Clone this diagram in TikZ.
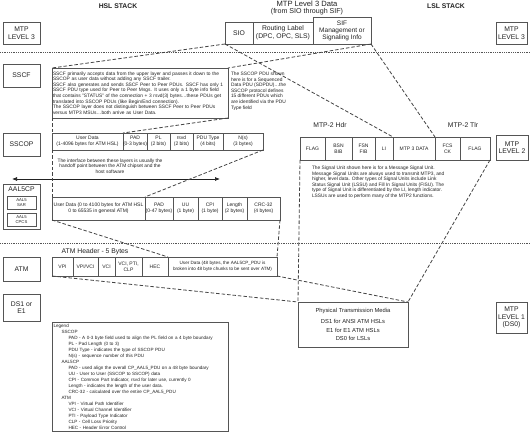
\documentclass[tikz,border=0pt]{standalone}
\usepackage{fontspec}
\setmainfont{Liberation Sans}
\usetikzlibrary{arrows.meta,positioning}
\definecolor{stkline}{HTML}{555555}
\definecolor{stktext}{HTML}{222222}
\definecolor{stkdash}{HTML}{444444}
\newcommand{\ftxt}{\fontsize{4.85}{5.6}\selectfont}
\newcommand{\flgd}{\fontsize{4.6}{6.0}\selectfont}
\newcommand{\ffld}{\fontsize{5.0}{5.6}\selectfont}
\newcommand{\flvl}{\fontsize{6.8}{7.6}\selectfont}
\tikzset{
  lvlbox/.style={draw=stkline,line width=0.9pt,font=\flvl,align=center,inner sep=0pt,outer sep=0pt,anchor=north west,text=stktext},
  fldbox/.style={draw=stkline,line width=0.6pt,font=\ffld,align=center,inner sep=0pt,outer sep=0pt,anchor=north west,text=stktext},
  notetxt/.style={font=\ftxt,align=left,inner sep=0pt,outer sep=0pt,anchor=north west,text=stktext},
  zoomln/.style={draw=stkdash,line width=0.8pt,dash pattern=on 3.5pt off 2pt},
  layerln/.style={draw=stkline,line width=0.7pt,dash pattern=on 0.7pt off 1.1pt},
  ifarrow/.style={{Latex[length=5pt,width=4pt]}-{Latex[length=5pt,width=4pt]},draw=stktext,line width=0.7pt},
  hdrtxt/.style={font=\flvl,text=stktext,inner sep=0pt,align=center}
}

\begin{document}
\begin{tikzpicture}[x=1pt,y=-1pt]
\useasboundingbox[fill=white] (0,0) rectangle (530,433);
\node[hdrtxt,font=\flvl\bfseries] (hsl) at (118,6) {HSL STACK};
\node[hdrtxt,anchor=north,font=\fontsize{7.1}{7.2}\selectfont] (l3data) at (307,1) {{\fontsize{7.6}{8}\selectfont MTP Level 3 Data}\\(from SIO through SIF)};
\node[hdrtxt,font=\flvl\bfseries] (lsl) at (446,6) {LSL STACK};
\node[lvlbox,minimum width=37pt,minimum height=22pt] (lvl3a) at (3,22) {MTP\\LEVEL 3};
\node[lvlbox,minimum width=31pt,minimum height=22pt] (lvl3b) at (496,22) {MTP\\LEVEL 3};
\node[fldbox,font=\flvl,minimum width=28pt,minimum height=22pt] (sio) at (225,22) {SIO};
\node[fldbox,font=\flvl,minimum width=60pt,minimum height=22pt] (rlab) at (253,22) {Routing Label\\(DPC, OPC, SLS)};
\node[fldbox,font=\fontsize{6.5}{7.0}\selectfont,minimum width=58pt,minimum height=27pt] (sif) at (313,17) {SIF\\Management or\\Signaling Info};
\draw[layerln] (0,52) -- (530,52);
\draw[layerln] (0,243) -- (530,243);
\node[lvlbox,minimum width=37pt,minimum height=23pt] (sscf) at (3,64) {SSCF};
\node[notetxt,draw=stkline,line width=0.6pt,inner sep=1pt,text width=174pt,minimum height=50pt] (sscftxt) at (52,68) {SSCF primarily accepts data from the upper layer  and passes it down to the\\SSCOP as user data without adding any SSCF trailer.\\SSCF also generates and sends SSCF Peer to Peer PDUs. SSCF has only 1\\SSCF PDU type used for Peer to Peer Msgs. It uses only a 1 byte info field\\that contains "STATUS" of the connection + 3 rsvd(3) bytes\ldots these PDUs get\\translated into SSCOP PDUs (like Begin/End connection).\\The SSCOP layer does not distinguish between SSCF Peer to Peer PDUs\\versus MTP3 MSUs\ldots both arrive as User Data.};
\node[notetxt] (pdunote) at (231,72) {The SSCOP PDU shown\\here is for a Sequenced\\Data PDU (SDPDU)\ldots the\\SSCOP protocol defines\\15 different PDUs which\\are identified via the PDU\\Type field};
\node[lvlbox,minimum width=37pt,minimum height=23pt] (sscop) at (3,133) {SSCOP};
\foreach \n/\xa/\xb/\txt in {ud/52/123/{User Data\\(1-4096 bytes for ATM HSL)},pad/123/147/{PAD\\(0-3 bytes)},pl/147/170/{PL\\(2 bits)},rsvd/170/193/{rsvd\\(2 bits)},pdu/193/223/{PDU Type\\(4 bits)},ns/223/263/{N(s)\\(3 bytes)}}
  \node[fldbox,minimum width={(\xb-\xa)*1pt},minimum height=17pt] (sscop\n) at (\xa,133) {\txt};
\node[notetxt,align=center,anchor=center] (iftxt) at (110,166) {The interface between these layers is usually the\\handoff point between the ATM chipset and the\\host software};
\coordinate (ifl) at (12,179);
\coordinate (ifr) at (220,179);
\draw[ifarrow] (ifl) -- (ifr);
\node[lvlbox,minimum width=37pt,minimum height=45pt] (aal5) at (3,184) {};
\node[hdrtxt,below=3pt of aal5.north] (aal5lbl) {AAL5CP};
\node[fldbox,line width=0.5pt,font=\fontsize{4.2}{4.8}\selectfont,minimum width=29pt,minimum height=13pt] (sar) at (7,196) {AAL5\\SAR};
\node[fldbox,line width=0.5pt,font=\fontsize{4.2}{4.8}\selectfont,minimum width=29pt,minimum height=13pt] (cpcs) at (7,213) {AAL5\\CPCS};
\foreach \n/\xa/\xb/\txt in {ud/52/145/{User Data (0 to 4100 bytes for ATM HSL\\0 to 65535 in general ATM)},pad/145/173/{PAD\\(0-47 bytes)},uu/173/198/{UU\\(1 byte)},cpi/198/222/{CPI\\(1 byte)},len/222/247/{Length\\(2 bytes)},crc/247/280/{CRC-32\\(4 bytes)}}
  \node[fldbox,minimum width={(\xb-\xa)*1pt},minimum height=23pt] (aal\n) at (\xa,197) {\txt};
\node[hdrtxt] (atmhdr) at (95,252) {ATM Header - 5 Bytes};
\node[lvlbox,minimum width=37pt,minimum height=24pt] (atm) at (3,257) {ATM};
\foreach \n/\xa/\xb/\txt in {vpi/52/73/{VPI},vpvc/73/98/{VPI/VCI},vci/98/115/{VCI},vpc/115/142/{VCI, PTI,\\CLP},hec/142/168/{HEC},ud/168/277/{\fontsize{4.6}{5.4}\selectfont User Data (48 bytes, the AAL5CP\_PDU is\\\fontsize{4.6}{5.4}\selectfont broken into 48 byte chunks to be sent over ATM)}}
  \node[fldbox,minimum width={(\xb-\xa)*1pt},minimum height=19pt] (atm\n) at (\xa,257) {\txt};
\node[lvlbox,minimum width=37pt,minimum height=27pt] (ds1) at (3,294) {DS1 or\\E1};
\node[notetxt,font=\flgd,draw=stkline,line width=0.6pt,inner sep=1.5pt,text width=173pt,minimum height=109pt] (legend) at (52,322) {Legend\\
\hspace*{8pt}SSCOP\\
\hspace*{15pt}PAD - A 0-3 byte field used to align the PL field on a 4 byte boundary\\
\hspace*{15pt}PL - Pad Length (0 to 3)\\
\hspace*{15pt}PDU Type - indicates the type of SSCOP PDU\\
\hspace*{15pt}N(s) - sequence number of this PDU\\
\hspace*{8pt}AAL5CP\\
\hspace*{15pt}PAD - used align the overall CP\_AAL5\_PDU on a 48 byte boundary\\
\hspace*{15pt}UU - User to User (SSCOP to SSCOP) data\\
\hspace*{15pt}CPI - Common Part Indicator, rsvd for later use, currently 0\\
\hspace*{15pt}Length - indicates the length of the user data.\\
\hspace*{15pt}CRC-32 - calculated over the entire CP\_AAL5\_PDU\\
\hspace*{8pt}ATM\\
\hspace*{15pt}VPI - Virtual Path Identifier\\
\hspace*{15pt}VCI - Virtual Channel Identifier\\
\hspace*{15pt}PTI - Payload Type Indicator\\
\hspace*{15pt}CLP - Cell Loss Priority\\
\hspace*{15pt}HEC - Header Error Control};
\node[hdrtxt] (hdr2) at (330,125) {MTP-2 Hdr};
\node[hdrtxt] (tlr2) at (463,125) {MTP-2 Tlr};
\foreach \n/\xa/\xb/\txt in {flaga/300/325/{FLAG},bsn/325/352/{BSN\\BIB},fsn/352/375/{FSN\\FIB},li/375/393/{LI},data/393/435/{MTP 3 DATA},fcs/435/460/{FCS\\CK},flagb/460/490/{FLAG}}
  \node[fldbox,minimum width={(\xb-\xa)*1pt},minimum height=23pt] (m2\n) at (\xa,137) {\txt};
\node[lvlbox,minimum width=32pt,minimum height=25pt] (lvl2) at (496,135) {MTP\\LEVEL 2};
\node[notetxt] (sutxt) at (312,166) {The Signal Unit shown here is for a Message Signal Unit.\\Message Signal Units are always used to transmit MTP3, and\\higher, level data.  Other types of Signal Units include Link\\Status Signal Unit (LSSU) and Fill In Signal Units (FISU).  The\\type of Signal Unit is differentiated by the LI, length indicator.\\LSSUs are used to perform many of the MTP2 functions.};
\node[fldbox,font=\fontsize{5.8}{8.6}\selectfont,line width=0.8pt,minimum width=110pt,minimum height=45pt] (ptm) at (298,302) {Physical Transmission Media\\[3pt]DS1 for ANSI ATM HSLs\\E1 for E1 ATM HSLs\\DS0 for LSLs};
\node[lvlbox,minimum width=31pt,minimum height=31pt] (lvl1) at (496,302) {MTP\\LEVEL 1\\(DS0)};
\draw[zoomln] (sio.south west) -- (sscftxt.north west);
\draw[zoomln] (sif.south east) -- (sscftxt.north east);
\draw[zoomln] (sio.south west) -- (m2data.north west);
\draw[zoomln] (sif.south east) -- (m2data.north east);
\draw[zoomln] (sscftxt.south west) -- (sscopud.north west);
\draw[zoomln] (sscftxt.south east) -- (sscopud.north east);
\draw[zoomln] (sscopud.south west) -- (aalud.north west);
\draw[zoomln] (sscopns.south east) -- (aalud.north east);
\draw[zoomln] (aalud.south west) -- (atmud.north west);
\draw[zoomln] (aalcrc.south east) -- (atmud.north east);
\draw[zoomln] (atmvpi.south west) -- (ptm.north west);
\draw[zoomln] (atmud.south east) -- (ptm.north east);
\draw[zoomln] (m2flaga.south west) -- (ptm.north west);
\draw[zoomln] (m2flagb.south east) -- (ptm.north east);
\end{tikzpicture}
\end{document}
